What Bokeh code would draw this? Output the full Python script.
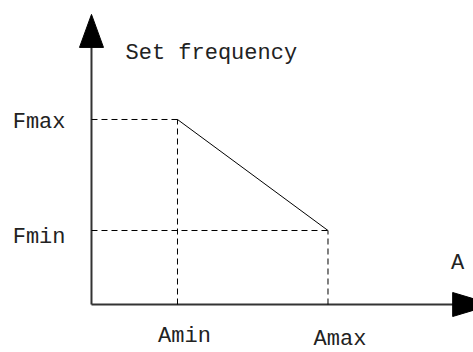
from bokeh.plotting import figure
from bokeh.models import Range1d
from bokeh.core.properties import value
from bokeh.embed import file_html
from bokeh.resources import INLINE

# ---- data (abstract units) ----
a_labels = ["Amin", "Amax"]
a_values = [2.0, 5.5]
f_labels = ["Fmax", "Fmin"]
f_values = [5.0, 2.0]
y_axis_title = "Set frequency"
x_axis_title = "A"
y_axis_top = 7.84
x_axis_end = 9.33

W, H = 473, 352
x0, x1 = -2.116, 8.884
y0, y1 = -1.297, 8.216
px_x = W / (x1 - x0)
px_y = H / (y1 - y0)

p = figure(width=W, height=H, output_backend="svg", toolbar_location=None,
           x_range=Range1d(x0, x1), y_range=Range1d(y0, y1), min_border=0,
           outline_line_color=None)
p.axis.visible = False
p.grid.visible = False

FONT = value("Liberation Mono")
axis_col = "#333333"

# axes lines
p.line([0, 0], [0, y_axis_top - 30 / px_y], line_color=axis_col, line_width=2)
p.line([0, x_axis_end], [0, 0], line_color=axis_col, line_width=2)
# arrow heads (sizes in pixels, converted to data units)
hl, hw = 33, 12
p.patch([0 - hw / px_x, 0, 0 + hw / px_x],
        [y_axis_top - hl / px_y, y_axis_top, y_axis_top - hl / px_y],
        fill_color="black", line_color="black")
xa = x_axis_end
p.patch([xa - 40 / px_x, xa, xa - 40 / px_x],
        [hw / px_y, 0, -hw / px_y], fill_color="black", line_color="black")

amin, amax = a_values
fmax, fmin = f_values
dash = dict(line_color="black", line_width=1, line_dash="6 4")
p.line([0, amin], [fmax, fmax], **dash)
p.line([0, amax], [fmin, fmin], **dash)
p.line([amin, amin], [0, fmax], **dash)
p.line([amax, amax], [0, fmin], **dash)
p.line([amin, amax], [fmax, fmin], line_color="black", line_width=1)

ts = dict(text_font=FONT, text_font_size="22px", text_color="#222222",
          text_baseline="middle")
# y labels
p.text([0, 0], f_values, text=f_labels, text_align="right", x_offset=-26,
       y_offset=[3, 7], **ts)
# x labels
p.text(a_values, [0, 0], text=a_labels, text_align="center",
       x_offset=[7, 12], y_offset=[32, 35], **ts)
p.text([0], [y_axis_top], text=[y_axis_title], text_align="left",
       x_offset=34, y_offset=39, **ts)
p.text([0], [0], text=[x_axis_title], text_align="center",
       x_offset=366, y_offset=-41, **ts)

open("out.html", "w").write(file_html(p, INLINE))
